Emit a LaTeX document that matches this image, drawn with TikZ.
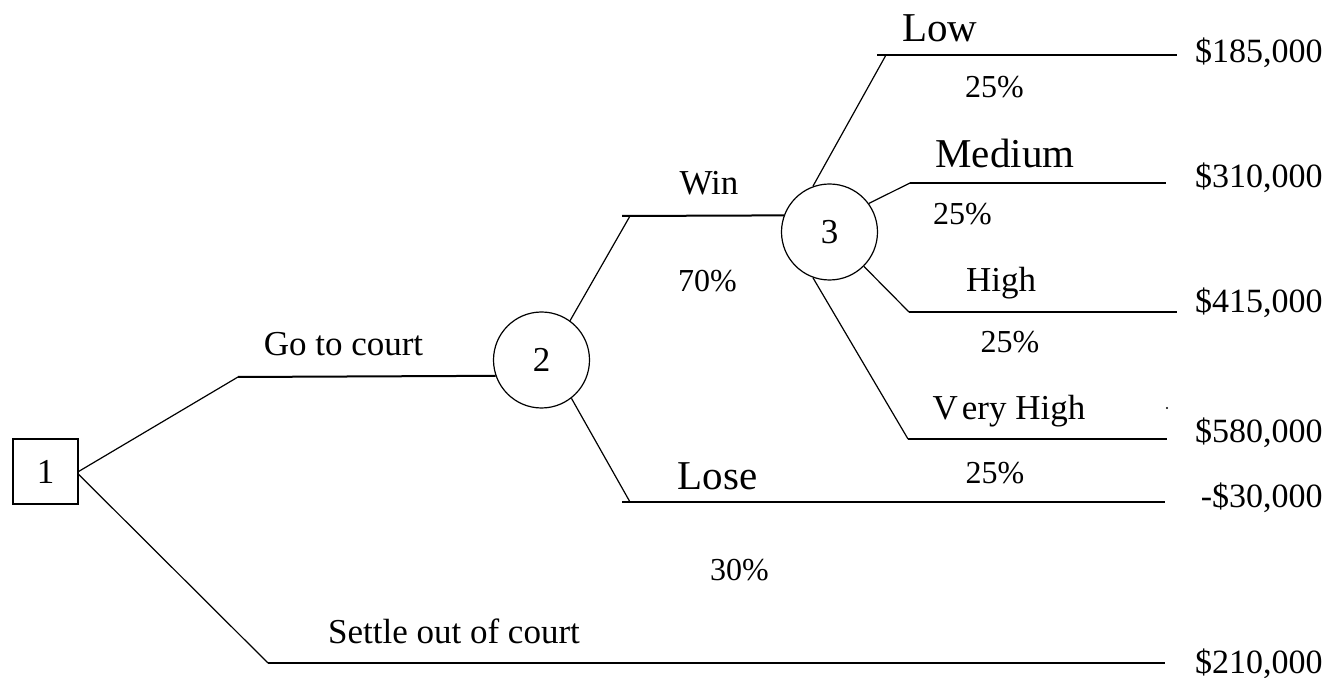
\documentclass[tikz,border=0pt]{standalone}
\usepackage{fontspec}
\setmainfont{Liberation Serif}
\begin{document}
\begin{tikzpicture}[x=0.5pt,y=-0.5pt,
  branch/.style={line width=1pt},
  slant/.style={line width=0.6pt},
  decision/.style={draw,line width=0.6pt,rectangle,minimum width=32.5pt,minimum height=32.5pt,inner sep=0pt,font=\fontsize{17.5}{20}\selectfont},
  chance/.style={draw,line width=0.6pt,circle,minimum size=48pt,inner sep=0pt,font=\fontsize{17.5}{20}\selectfont},
  lbl/.style={anchor=base,inner sep=0pt,font=\fontsize{17.5}{20}\selectfont},
  biglbl/.style={anchor=base,inner sep=0pt,font=\fontsize{20.5}{24}\selectfont},
  pct/.style={anchor=base,inner sep=0pt,font=\fontsize{16}{19}\selectfont},
  payoff/.style={anchor=base east,inner sep=0pt,font=\fontsize{17}{20}\selectfont}]
\useasboundingbox (0,0) rectangle (1328,678);

% nodes
\node[decision] (n1) at (45.5,471.5) {1};
\node[chance] (n2) at (541.5,360) {2};
\node[chance] (n3) at (829.5,232) {3};

% joints and ends
\coordinate (gj) at (238,377);
\coordinate (sj) at (268,663);
\coordinate (se) at (1165,663);
\coordinate (wj) at (630,216);
\coordinate (ws) at (622,216);
\coordinate (lj) at (630,502);
\coordinate (ls) at (622,502);
\coordinate (le) at (1165,502);
\coordinate (lowj) at (886,55);
\coordinate (lows) at (877,55);
\coordinate (lowe) at (1177,55);
\coordinate (medj) at (910,183);
\coordinate (mede) at (1166,183);
\coordinate (higj) at (909,312);
\coordinate (hige) at (1177,312);
\coordinate (vhj) at (908,439);
\coordinate (vhe) at (1167,439);

% decision branches
\draw[slant] (n1.east) -- (gj);
\draw[branch] (gj) -- (n2.199.47);
\draw[slant] (n1.-5) -- (sj);
\draw[branch] (sj) -- (se);

% chance node 2
\draw[slant] (n2.54) -- (wj);
\draw[branch] (ws) -- (n3.160.53);
\draw[slant] (n2.-52) -- (lj);
\draw[branch] (ls) -- (le);

% chance node 3
\draw[slant] (n3.110) -- (lowj);
\draw[branch] (lows) -- (lowe);
\draw[slant] (n3.36.5) -- (medj);
\draw[branch] (medj) -- (mede);
\draw[slant] (n3.-45.4) -- (higj);
\draw[branch] (higj) -- (hige);
\draw[slant] (n3.-110) -- (vhj);
\draw[branch] (vhj) -- (vhe);

% labels
\node[lbl] (tgo) at (343.5,356) {Go to court};
\node[lbl] (tset) at (454,643) {Settle out of court};
\node[lbl] (twin) at (709,195) {Win};
\node[pct] (p70) at (707.5,292) {70\%};
\node[biglbl] (tlose) at (717.5,489) {Lose};
\node[pct] (p30) at (739.5,580) {30\%};
\node[biglbl] (tlow) at (940,42) {Low};
\node[pct] (plow) at (994.5,98) {25\%};
\node[biglbl] (tmed) at (1005,168) {Medium};
\node[pct] (pmed) at (962.5,225) {25\%};
\node[lbl] (thig) at (1001,292) {High};
\node[pct] (phig) at (1010,353) {25\%};
\node[lbl] (tvh) at (1009,420) {V\kern2pt ery High};
\node[pct] (pvh) at (995,484) {25\%};

% payoffs
\node[payoff] (v1) at (1323,63) {\$185,000};
\node[payoff] (v2) at (1323,188) {\$310,000};
\node[payoff] (v3) at (1323,313) {\$415,000};
\node[payoff] (v4) at (1323,443) {\$580,000};
\node[payoff] (v5) at (1323,508) {-\$30,000};
\node[payoff] (v6) at (1323,673) {\$210,000};

% stray dot
\fill (1167,408) circle (0.6pt);
\end{tikzpicture}
\end{document}
